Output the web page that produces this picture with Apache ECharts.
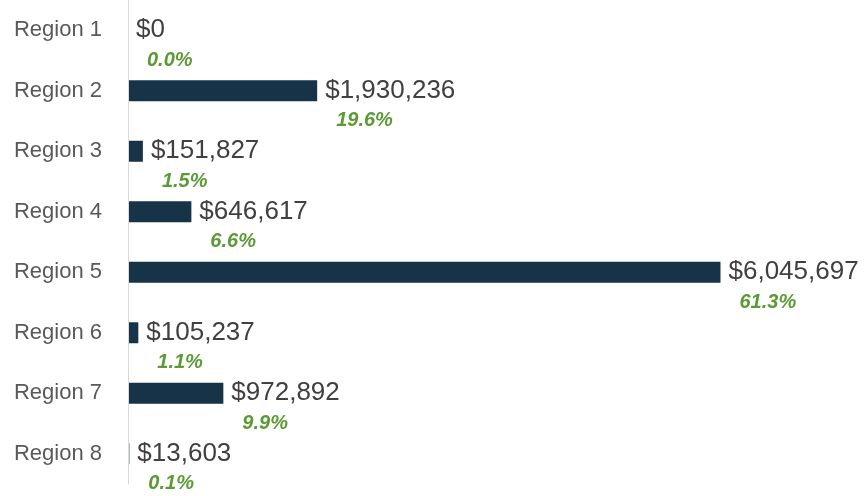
<!DOCTYPE html>
<html>
<head>
<meta charset="utf-8">
<script src="https://cdn.jsdelivr.net/npm/echarts@6/dist/echarts.min.js"></script>
<style>
html,body{margin:0;padding:0;background:#fff;}
#chart{width:864px;height:496px;}
</style>
</head>
<body>
<div id="chart"></div>
<script>
const categories = ['Region 1','Region 2','Region 3','Region 4','Region 5','Region 6','Region 7','Region 8'];
const values = [0, 1930236, 151827, 646617, 6045697, 105237, 972892, 13603];
const percents = ['0.0%','19.6%','1.5%','6.6%','61.3%','1.1%','9.9%','0.1%'];

const chart = echarts.init(document.getElementById('chart'), null, {renderer:'canvas'});
const fmtMoney = v => '$' + v.toLocaleString('en-US');

chart.setOption({
  animation: false,
  backgroundColor: '#ffffff',
  grid: {left: 128, right: 0, top: -2, bottom: 12, containLabel: false},
  xAxis: {
    type: 'value', min: 0, max: 7510000, show: false,
    splitLine: {show: false}
  },
  yAxis: {
    type: 'category', data: categories, inverse: true, z: 5,
    axisLine: {show: true, lineStyle: {color: '#d9d9d9', width: 1}},
    axisTick: {show: false},
    axisLabel: {
      color: '#595959', fontFamily: 'Liberation Sans, Arial, sans-serif',
      fontSize: 22, margin: 26
    }
  },
  series: [
    {
      type: 'bar', data: values, barWidth: 21,
      itemStyle: {color: '#173347'},
      label: {
        show: true, position: 'right', distance: 8,
        formatter: p => fmtMoney(p.value),
        color: '#404040', fontSize: 26,
        fontFamily: 'Liberation Sans, Arial, sans-serif'
      },
      z: 2
    },
    {
      type: 'bar', data: values, barWidth: 21, barGap: '-100%',
      itemStyle: {color: 'rgba(0,0,0,0)'},
      label: {
        show: true, position: 'right', distance: 8, offset: [11, 30],
        formatter: p => percents[p.dataIndex],
        color: '#5b9a35', fontSize: 20, fontWeight: 'bold', fontStyle: 'italic',
        fontFamily: 'Liberation Sans, Arial, sans-serif'
      },
      z: 1
    }
  ]
});
</script>
</body>
</html>
